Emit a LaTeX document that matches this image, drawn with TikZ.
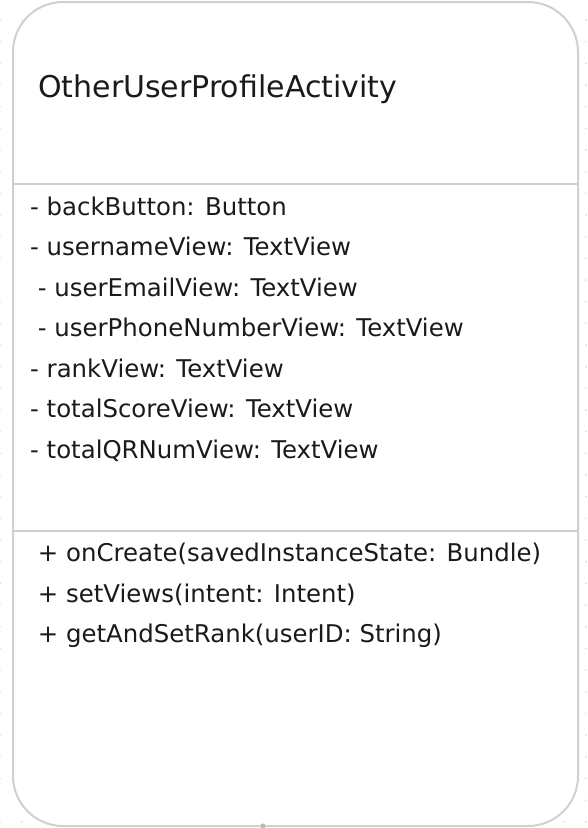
\documentclass[tikz,border=0pt]{standalone}
\usepackage{fontspec}
\setmainfont{DejaVu Sans}
\usepackage{tikz}
\usepackage{xcolor}
\definecolor{umlgray}{HTML}{D0D0D0}
\definecolor{dotgray}{HTML}{D6D6D6}
\definecolor{umltext}{HTML}{1A1A1A}

\begin{document}
\begin{tikzpicture}[x=1pt, y=-1pt, line join=round, line cap=round,
  member/.style={anchor=base west, inner sep=0pt, text=umltext, font=\fontsize{24.4pt}{30pt}\selectfont}]
\useasboundingbox (0,0) rectangle (587,828);

% Dotted canvas grid
\foreach \i in {0,...,27} {
  \foreach \j in {0,...,38} {
    \fill[dotgray] (\i*21.7, -1.7+\j*21.67) circle (0.9pt);
  }
}

% Class box
\node[draw=umlgray, line width=2pt, fill=white, rounded corners=50pt, outer sep=0pt, inner sep=0pt,
  minimum width=565pt, minimum height=824pt, anchor=north west] (cls) at (13,2) {};

% Compartment lines
\draw[umlgray, line width=2pt] (cls.west |- 0,184) -- (cls.east |- 0,184);
\draw[umlgray, line width=2pt] (cls.west |- 0,531) -- (cls.east |- 0,531);

% Class name
\node[anchor=base west, inner sep=0pt, text=umltext, font=\fontsize{30pt}{36pt}\selectfont] (name) at (38,97.7) {OtherUserProfileActivity};

% Attributes
\node[member] (backButton) at (30,215) {- backButton: Button};
\node[member] (usernameView) at (30,255.5) {- usernameView: TextView};
\node[member] (userEmailView) at (30,296) {\ - userEmailView: TextView};
\node[member] (userPhoneView) at (30,336.5) {\ - userPhoneNumberView: TextView};
\node[member] (rankView) at (30,377) {- rankView: TextView};
\node[member] (totalScoreView) at (30,417.5) {- totalScoreView: TextView};
\node[member] (totalQRNumView) at (30,458) {- totalQRNumView: TextView};

% Methods
\node[member] (onCreate) at (30,561.7) {\ + onCreate(savedInstanceState: Bundle)};
\node[member] (setViews) at (30,602.2) {\ + setViews(intent: Intent)};
\node[member] (getAndSetRank) at (30,642.7) {\ + getAndSetRank(userID: String)};

% Connection handle
\coordinate (handle) at (263,826);
\fill[umlgray!70!gray] (handle) circle (2.5pt);

\end{tikzpicture}
\end{document}
